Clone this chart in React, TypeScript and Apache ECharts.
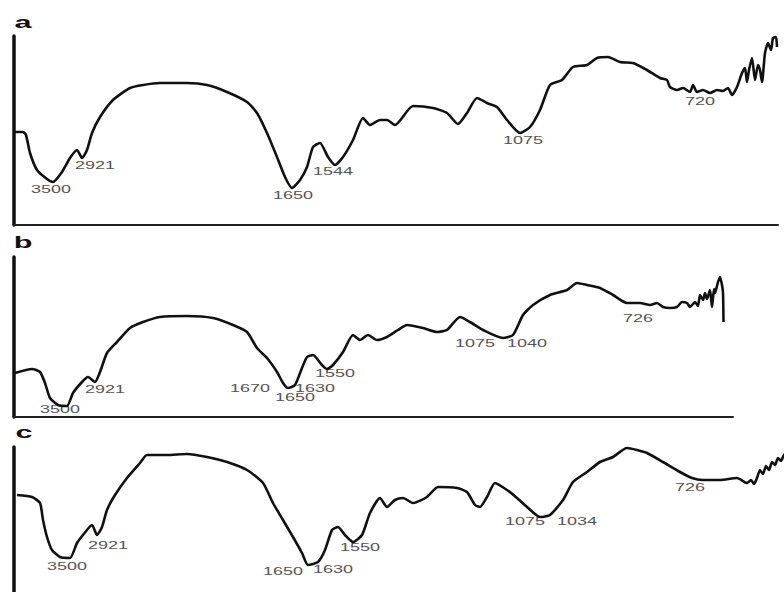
import React, { useEffect, useRef } from "react";
import * as echarts from "echarts";

// x: relative position along the (unlabelled) wavenumber axis, y: relative transmittance
const spectrumA: [number, number][] = [
  [1, 93], [9, 93], [12, 90], [16, 72], [23, 55], [33, 46], [39, 43], [48, 53], [56, 67],
  [63, 75], [68, 67], [73, 75], [78, 92], [86, 108], [99, 125], [116, 137], [129, 140],
  [146, 142], [173, 142], [193, 140], [213, 133], [233, 123], [243, 112], [253, 92],
  [263, 68], [271, 48], [278, 37], [286, 45], [293, 58], [299, 78], [306, 82], [314, 68],
  [321, 60], [329, 68], [339, 85], [349, 107], [356, 100], [366, 105], [373, 105],
  [381, 100], [399, 119], [419, 117], [433, 112], [444, 101], [453, 112], [463, 127],
  [473, 122], [483, 118], [493, 105], [506, 92], [516, 98], [526, 115], [536, 140],
  [548, 145], [559, 158], [573, 160], [583, 167], [594, 168], [606, 163], [619, 162],
  [633, 155], [646, 147], [653, 145], [656, 138], [663, 135], [669, 137], [676, 133],
  [679, 140], [683, 133], [689, 135], [696, 132], [703, 135], [709, 134], [714, 137],
  [718, 130], [723, 138], [728, 152], [731, 157], [733, 143], [735, 155], [738, 167],
  [741, 145], [744, 160], [746, 155], [748, 143], [751, 172], [754, 182], [757, 175],
  [759, 187], [762, 188], [763, 178],
];

const spectrumB: [number, number][] = [
  [1, 44], [18, 48], [26, 45], [31, 34], [36, 19], [44, 12], [53, 11], [59, 24], [68, 35],
  [74, 40], [81, 35], [86, 45], [93, 64], [103, 75], [116, 89], [129, 95], [146, 100],
  [173, 101], [199, 99], [219, 92], [233, 85], [243, 69], [253, 59], [263, 45], [269, 34],
  [274, 29], [281, 32], [288, 49], [293, 60], [299, 62], [308, 52], [313, 48], [319, 52],
  [329, 65], [339, 82], [346, 77], [354, 82], [363, 77], [373, 80], [384, 87], [393, 92],
  [409, 89], [423, 85], [433, 87], [446, 100], [456, 95], [469, 87], [489, 79], [499, 82],
  [509, 102], [519, 112], [536, 122], [553, 127], [563, 134], [573, 132], [586, 129],
  [599, 122], [613, 114], [626, 114], [636, 112], [643, 114], [649, 110], [656, 109],
  [663, 110], [668, 115], [673, 114], [676, 110], [681, 115], [684, 111], [686, 122],
  [689, 117], [691, 124], [693, 118], [696, 127], [698, 110], [700, 128], [701, 124],
  [703, 131], [704, 135], [706, 140], [708, 132], [709, 124], [709.5, 95],
];

const spectrumC: [number, number][] = [
  [3, 97], [18, 95], [26, 89], [29, 72], [33, 55], [38, 42], [46, 35], [56, 34], [63, 49],
  [69, 57], [78, 67], [83, 57], [88, 65], [93, 82], [101, 97], [113, 114], [126, 129],
  [133, 137], [153, 137], [173, 138], [193, 135], [213, 130], [233, 122], [249, 109],
  [259, 89], [269, 72], [279, 55], [288, 39], [294, 27], [304, 30], [311, 42], [318, 62],
  [324, 65], [331, 57], [339, 50], [348, 57], [356, 79], [366, 94], [373, 85], [381, 92],
  [389, 94], [399, 89], [413, 95], [424, 105], [443, 104], [453, 100], [461, 87], [466, 85],
  [473, 95], [481, 109], [493, 102], [503, 94], [513, 85], [526, 75], [536, 77], [549, 92],
  [559, 110], [573, 120], [586, 130], [599, 135], [613, 144], [623, 142], [633, 139],
  [649, 130], [666, 120], [678, 114], [689, 112], [706, 112], [723, 114], [733, 109],
  [737, 112], [740, 108], [743, 114], [746, 122], [749, 118], [752, 126], [755, 122],
  [758, 130], [761, 127], [764, 134], [767, 131], [770, 137], [776, 140],
];

// peak annotations: [x, y, label]
const peaksA: [number, number, string][] = [
  [37, 35, "3500"], [81, 59, "2921"], [279, 29, "1650"], [319, 53, "1544"],
  [509, 84, "1075"], [686, 123, "720"],
];
const peaksB: [number, number, string][] = [
  [46, 7, "3500"], [91, 27, "2921"], [236, 28, "1670"], [301, 28, "1630"],
  [281, 19, "1650"], [321, 43, "1550"], [461, 73, "1075"], [513, 73, "1040"],
  [624, 98, "726"],
];
const peaksC: [number, number, string][] = [
  [53, 25, "3500"], [94, 46, "2921"], [269, 20, "1650"], [319, 22, "1630"],
  [346, 44, "1550"], [511, 70, "1075"], [563, 70, "1034"], [676, 104, "726"],
];

const panelLetters = ["a", "b", "c"];

export default function App() {
  const ref = useRef<HTMLDivElement>(null);
  useEffect(() => {
    if (!ref.current) return;
    const chart = echarts.init(ref.current, null, { renderer: "svg" });
    const grids = [
      { left: 14, top: 36, width: 764, height: 189 },
      { left: 14, top: 257, width: 719, height: 160 },
      { left: 14, top: 447, width: 770, height: 145 },
    ];
    const xMax = [764, 719, 770];
    const yMax = [189, 160, 145];
    const spectra = [spectrumA, spectrumB, spectrumC];
    const peaks = [peaksA, peaksB, peaksC];

    chart.setOption({
      animation: false,
      backgroundColor: "#ffffff",
      grid: grids,
      xAxis: grids.map((_, i) => ({
        type: "value",
        gridIndex: i,
        min: 0,
        max: xMax[i],
        axisLine: { show: i < 2, onZero: false, lineStyle: { color: "#222", width: 2 } },
        axisTick: { show: false },
        axisLabel: { show: false },
        splitLine: { show: false },
      })),
      yAxis: grids.map((_, i) => ({
        type: "value",
        gridIndex: i,
        min: 0,
        max: yMax[i],
        axisLine: { show: true, onZero: false, lineStyle: { color: "#111", width: 3.5 } },
        axisTick: { show: false },
        axisLabel: { show: false },
        splitLine: { show: false },
      })),
      series: spectra.map((d, i) => ({
        type: "line",
        xAxisIndex: i,
        yAxisIndex: i,
        data: d,
        symbol: "none",
        showSymbol: false,
        smooth: 0.2,
        lineStyle: { color: "#111", width: 2.6 },
      })),
    });

    const texts: any[] = [];
    peaks.forEach((list, i) => {
      list.forEach(([x, y, t]) => {
        const p = chart.convertToPixel({ gridIndex: i }, [x, y]) as number[];
        texts.push({
          type: "text",
          x: p[0],
          y: p[1],
          scaleX: 1.8,
          style: {
            text: t,
            fontSize: 10,
            fontFamily: "Liberation Sans",
            fill: "#555",
            align: "center",
            verticalAlign: "middle",
            textAlign: "center",
            textVerticalAlign: "middle",
          },
        });
      });
    });
    const letterPos = [
      [23, 22],
      [23, 242],
      [24, 432],
    ];
    panelLetters.forEach((l, i) => {
      texts.push({
        type: "text",
        x: letterPos[i][0],
        y: letterPos[i][1],
        scaleX: 1.8,
        style: {
          text: l,
          fontSize: 17,
          fontWeight: "bold",
          fontFamily: "Liberation Sans",
          fill: "#111",
          align: "center",
          verticalAlign: "middle",
          textAlign: "center",
          textVerticalAlign: "middle",
        },
      });
    });
    chart.setOption({ graphic: texts });

    return () => chart.dispose();
  }, []);
  return (
    <div
      ref={ref}
      style={{ position: "fixed", left: 0, top: 0, width: 784, height: 592, background: "#fff" }}
    />
  );
}
